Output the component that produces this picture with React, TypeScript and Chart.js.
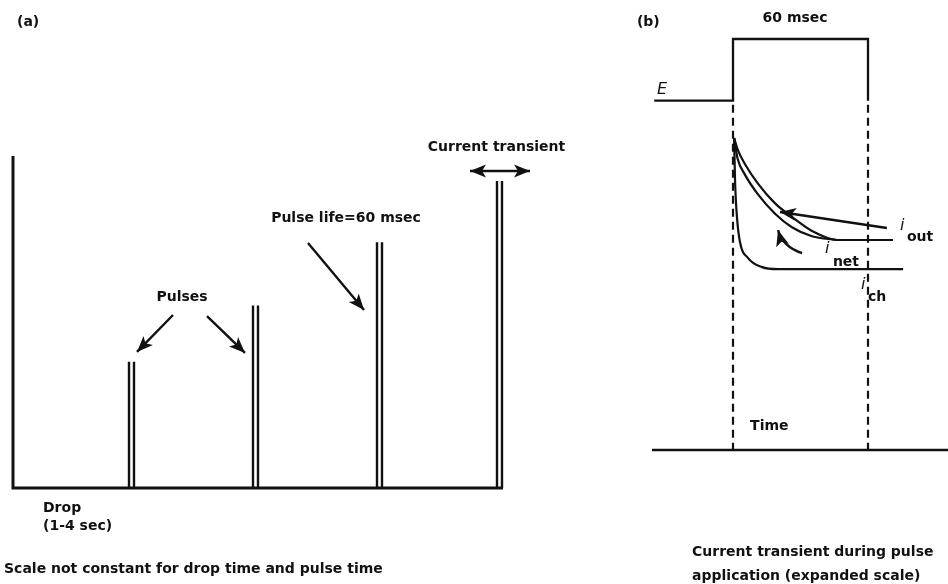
import React, { useEffect, useRef } from "react";
import { Chart, registerables } from "chart.js";

Chart.register(...registerables);

// ---------- Panel (a): drop-time trace (time in a.u., current in % of drop-top) ----------
const dropTime = [0, 0, 49];
const dropCurrent = [100, 0, 0];
const pulseStart = [11.6, 24.0, 36.4, 48.4];
const pulseWidth = 0.5;
const pulseHeight = [38, 55, 74, 92.5];

// ---------- Panel (b): pulse, in msec ----------
const eTime = [-35, 0, 0, 60, 60, 96];
const eLevel = [85, 85, 100, 100, 85, 85];
const axisTime = [-36, 96];
const axisLevel = [0, 0];
const pulseEdges = [0, 60];
const dashTop = 84;
const outTime = [0.5, 2, 5.3, 11.1, 18.7, 26.2, 35.1, 46.2, 71.1];
const outCurrent = [75.9, 73.2, 69.6, 64.8, 60.0, 56.7, 53.3, 51.1, 51.1];
const netTime = [0.5, 2, 5.3, 11.1, 18.7, 26.2, 35.1, 46.2];
const netCurrent = [75.9, 71.0, 67.0, 62.2, 57.5, 54.2, 52.0, 51.1];
const chTime = [0.5, 0.9, 1.8, 3.1, 6.7, 12.9, 20, 75.6];
const chCurrent = [75.9, 65.7, 56.4, 50.6, 46.7, 44.5, 44.0, 44.0];

type Pt = [number, number];
type Txt = { text: string; at: Pt; align: CanvasTextAlign; font: string };
type Arrow = { from: Pt; to: Pt; ctrl?: Pt; both?: boolean };

const BOLD = 'bold 14px "DejaVu Sans"';
const ITAL = 'oblique 16px "DejaVu Sans"';
const INK = "#111";

const textsA: Txt[] = [
  { text: "(a)", at: [0.4, 140.4], align: "left", font: BOLD },
  { text: "Pulses", at: [16.9, 57.5], align: "center", font: BOLD },
  { text: "Pulse life=60 msec", at: [33.3, 81.3], align: "center", font: BOLD },
  { text: "Current transient", at: [48.35, 102.7], align: "center", font: BOLD },
  { text: "Drop", at: [3.0, -6.0], align: "left", font: BOLD },
  { text: "(1-4 sec)", at: [3.0, -11.7], align: "left", font: BOLD },
  { text: "Scale not constant for drop time and pulse time", at: [-0.9, -24.4], align: "left", font: BOLD },
];
const arrowsA: Arrow[] = [
  { from: [16.0, 52.1], to: [12.4, 41.0] },
  { from: [19.4, 51.8], to: [23.2, 40.7] },
  { from: [29.5, 73.8], to: [35.1, 53.6] },
  { from: [45.7, 95.5], to: [51.7, 95.5], both: true },
];

const textsB: Txt[] = [
  { text: "(b)", at: [-42.7, 104.1], align: "left", font: BOLD },
  { text: "60 msec", at: [27.6, 105.1], align: "center", font: BOLD },
  { text: "E", at: [-33.8, 87.6], align: "left", font: ITAL },
  { text: "Time", at: [7.6, 5.8], align: "left", font: BOLD },
  { text: "Current transient during pulse", at: [-18.2, -24.8], align: "left", font: BOLD },
  { text: "application (expanded scale)", at: [-18.2, -30.7], align: "left", font: BOLD },
  { text: "i", at: [74.2, 54.5], align: "left", font: ITAL },
  { text: "out", at: [77.3, 51.8], align: "left", font: BOLD },
  { text: "i", at: [40.9, 48.9], align: "left", font: ITAL },
  { text: "net", at: [44.4, 45.7], align: "left", font: BOLD },
  { text: "i", at: [56.9, 40.3], align: "left", font: ITAL },
  { text: "ch", at: [60, 37.2], align: "left", font: BOLD },
];
const arrowsB: Arrow[] = [
  { from: [68.4, 54.0], to: [20.9, 57.9] },
  { from: [30.7, 47.9], ctrl: [22.2, 49.4], to: [20, 53.5] },
];

function head(ctx: CanvasRenderingContext2D, tip: Pt, from: Pt) {
  const ang = Math.atan2(tip[1] - from[1], tip[0] - from[0]);
  const L = 16, W = 6.5;
  const c = Math.cos(ang), s = Math.sin(ang);
  ctx.beginPath();
  ctx.moveTo(tip[0], tip[1]);
  ctx.lineTo(tip[0] - L * c + W * s, tip[1] - L * s - W * c);
  ctx.lineTo(tip[0] - L * c * 0.75, tip[1] - L * s * 0.75);
  ctx.lineTo(tip[0] - L * c - W * s, tip[1] - L * s + W * c);
  ctx.closePath();
  ctx.fill();
}

function makeNotes(texts: Txt[], arrows: Arrow[]) {
  return {
    id: "notes",
    afterDatasetsDraw(chart: any) {
      const { ctx, scales } = chart;
      const P = (p: Pt): Pt => [scales.x.getPixelForValue(p[0]), scales.y.getPixelForValue(p[1])];
      ctx.save();
      ctx.fillStyle = INK;
      ctx.strokeStyle = INK;
      ctx.lineWidth = 2.4;
      ctx.lineCap = "butt";
      for (const a of arrows) {
        const f = P(a.from), t = P(a.to);
        ctx.beginPath();
        ctx.moveTo(f[0], f[1]);
        if (a.ctrl) {
          const c = P(a.ctrl);
          ctx.quadraticCurveTo(c[0], c[1], t[0], t[1]);
          ctx.stroke();
          head(ctx, t, c);
        } else {
          ctx.lineTo(t[0], t[1]);
          ctx.stroke();
          head(ctx, t, f);
          if (a.both) head(ctx, f, t);
        }
      }
      ctx.textBaseline = "middle";
      for (const s of texts) {
        const p = P(s.at);
        ctx.font = s.font;
        ctx.textAlign = s.align;
        ctx.fillText(s.text, p[0], p[1]);
      }
      ctx.restore();
    },
  };
}

const pts = (xs: number[], ys: number[]) => xs.map((x, i) => ({ x, y: ys[i] }));

function baseOptions(xmin: number, xmax: number, padding: any) {
  return {
    responsive: false,
    animation: false as const,
    layout: { padding },
    plugins: { legend: { display: false }, tooltip: { enabled: false }, title: { display: false } },
    scales: {
      x: { type: "linear" as const, min: xmin, max: xmax, display: false },
      y: { type: "linear" as const, min: 0, max: 100, display: false },
    },
    elements: { point: { radius: 0 } },
  };
}

const lineDs = (data: any[], extra: any = {}) => ({
  data,
  showLine: true,
  borderColor: INK,
  backgroundColor: INK,
  borderWidth: 2,
  pointRadius: 0,
  spanGaps: false,
  clip: false,
  tension: 0,
  ...extra,
});

export default function App() {
  const refA = useRef<HTMLCanvasElement>(null);
  const refB = useRef<HTMLCanvasElement>(null);

  useEffect(() => {
    // panel (a)
    const trace: any[] = pts(dropTime, dropCurrent);
    const pulses: any[] = [];
    pulseStart.forEach((s, i) => {
      pulses.push({ x: s, y: 0 }, { x: s, y: pulseHeight[i] }, { x: s, y: null });
      pulses.push({ x: s + pulseWidth, y: pulseHeight[i] }, { x: s + pulseWidth, y: 0 }, { x: s + pulseWidth, y: null });
    });
    const chartA = new Chart(refA.current!, {
      type: "scatter",
      data: {
        datasets: [
          lineDs(trace, { borderWidth: 3 }),
          lineDs(pulses, { borderWidth: 2.4 }),
        ],
      },
      options: baseOptions(0, 50, { left: 13, right: 107, top: 156, bottom: 96 }) as any,
      plugins: [makeNotes(textsA, arrowsA)],
    });

    // panel (b)
    const dashes: any[] = [];
    pulseEdges.forEach((t) => {
      dashes.push({ x: t, y: dashTop }, { x: t, y: 0 }, { x: t, y: null });
    });
    const curve = { cubicInterpolationMode: "monotone", borderWidth: 2.2 };
    const chartB = new Chart(refB.current!, {
      type: "scatter",
      data: {
        datasets: [
          lineDs(pts(eTime, eLevel), { borderWidth: 2.3 }),
          lineDs(pts(axisTime, axisLevel), { borderWidth: 2.3 }),
          lineDs(dashes, { borderWidth: 2.2, borderDash: [8, 5] }),
          lineDs(pts(outTime, outCurrent), curve),
          lineDs(pts(netTime, netCurrent), curve),
          lineDs(pts(chTime, chCurrent), curve),
        ],
      },
      options: baseOptions(0, 60, { left: 113, right: 80, top: 39, bottom: 134 }) as any,
      plugins: [makeNotes(textsB, arrowsB)],
    });

    return () => {
      chartA.destroy();
      chartB.destroy();
    };
  }, []);

  return (
    <div style={{ position: "absolute", left: 0, top: 0, width: 948, height: 584, background: "#fff", overflow: "hidden" }}>
      <canvas ref={refA} width={620} height={584} style={{ position: "absolute", left: 0, top: 0 }} />
      <canvas ref={refB} width={328} height={584} style={{ position: "absolute", left: 620, top: 0 }} />
    </div>
  );
}
